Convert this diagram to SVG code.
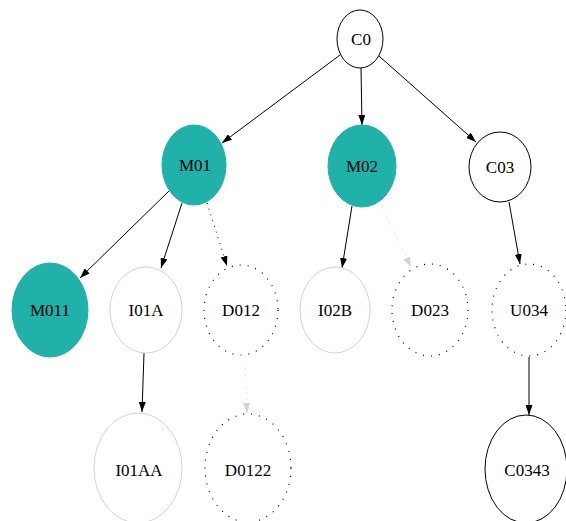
<svg xmlns="http://www.w3.org/2000/svg" width="566" height="521" viewBox="0 0 566 521">
<style>
.n{fill:#ffffff;stroke:#000000;stroke-width:1}
.m{fill:#20b2aa;stroke:#20b2aa;stroke-width:1}
.g{fill:#ffffff;stroke:#d3d3d3;stroke-width:1}
.d{fill:#ffffff;stroke:#000000;stroke-width:1.2;stroke-dasharray:1,7}
text{font-family:"Liberation Serif","Times New Roman",serif;font-size:17px;fill:#000000;text-anchor:middle}
.e{stroke:#000000;stroke-width:1;fill:none}
.ed{stroke:#000000;stroke-width:1;fill:none;stroke-dasharray:1,5}
.eg{stroke:#d3d3d3;stroke-width:1;fill:none;stroke-dasharray:1,5}
</style>
<defs>
<marker id="ab" viewBox="0 0 10 7" refX="10" refY="3.5" markerWidth="10" markerHeight="7" markerUnits="userSpaceOnUse" orient="auto">
<path d="M0,0 L10,3.5 L0,7 Z" fill="#000000"/>
</marker>
<marker id="ag" viewBox="0 0 10 7" refX="10" refY="3.5" markerWidth="10" markerHeight="7" markerUnits="userSpaceOnUse" orient="auto">
<path d="M0,0 L10,3.5 L0,7 Z" fill="#d3d3d3"/>
</marker>
</defs>
<g id="edges">
<path class="e" d="M340,55 L222,143" marker-end="url(#ab)"/>
<path class="e" d="M361,68 L362,125" marker-end="url(#ab)"/>
<path class="e" d="M379,56 L476,142" marker-end="url(#ab)"/>
<path class="e" d="M169,191 L80,278" marker-end="url(#ab)"/>
<path class="e" d="M182,203 L161,268" marker-end="url(#ab)"/>
<path class="ed" d="M207,203 L227,266" marker-end="url(#ab)"/>
<path class="e" d="M352,206 L342,268" marker-end="url(#ab)"/>
<path class="eg" d="M381,206 L411,267" marker-end="url(#ag)"/>
<path class="e" d="M509,202 L520,264" marker-end="url(#ab)"/>
<path class="e" d="M144,353 L142,412" marker-end="url(#ab)"/>
<path class="eg" d="M245,357 L247,413" marker-end="url(#ag)"/>
<path class="e" d="M529,357 L529,415" marker-end="url(#ab)"/>
</g>
<g id="C0"><ellipse class="n" cx="360" cy="39" rx="23" ry="29"/><text x="361" y="45">C0</text></g>
<g id="M01"><ellipse class="m" cx="194" cy="165" rx="32" ry="40"/><text x="195" y="171">M01</text></g>
<g id="M02"><ellipse class="m" cx="362" cy="166" rx="34" ry="41"/><text x="362" y="172">M02</text></g>
<g id="C03"><ellipse class="n" cx="500" cy="167" rx="31" ry="35"/><text x="500" y="173">C03</text></g>
<g id="M011"><ellipse class="m" cx="50" cy="310" rx="38" ry="47"/><text x="50" y="316">M011</text></g>
<g id="I01A"><ellipse class="g" cx="146" cy="310" rx="36" ry="43"/><text x="146" y="316">I01A</text></g>
<g id="D012"><ellipse class="d" cx="241" cy="310" rx="37" ry="45"/><text x="241" y="316">D012</text></g>
<g id="I02B"><ellipse class="g" cx="335" cy="310" rx="35" ry="43"/><text x="335" y="316">I02B</text></g>
<g id="D023"><ellipse class="d" cx="430" cy="310" rx="38" ry="46"/><text x="430" y="316">D023</text></g>
<g id="U034"><ellipse class="d" cx="529" cy="310" rx="37" ry="46"/><text x="529" y="316">U034</text></g>
<g id="I01AA"><ellipse class="g" cx="138" cy="468" rx="44" ry="55"/><text x="139" y="476">I01AA</text></g>
<g id="D0122"><ellipse class="d" cx="248" cy="468" rx="43" ry="54"/><text x="248" y="476">D0122</text></g>
<g id="C0343"><ellipse class="n" cx="526" cy="469" rx="41" ry="54"/><text x="527" y="476">C0343</text></g>
</svg>
